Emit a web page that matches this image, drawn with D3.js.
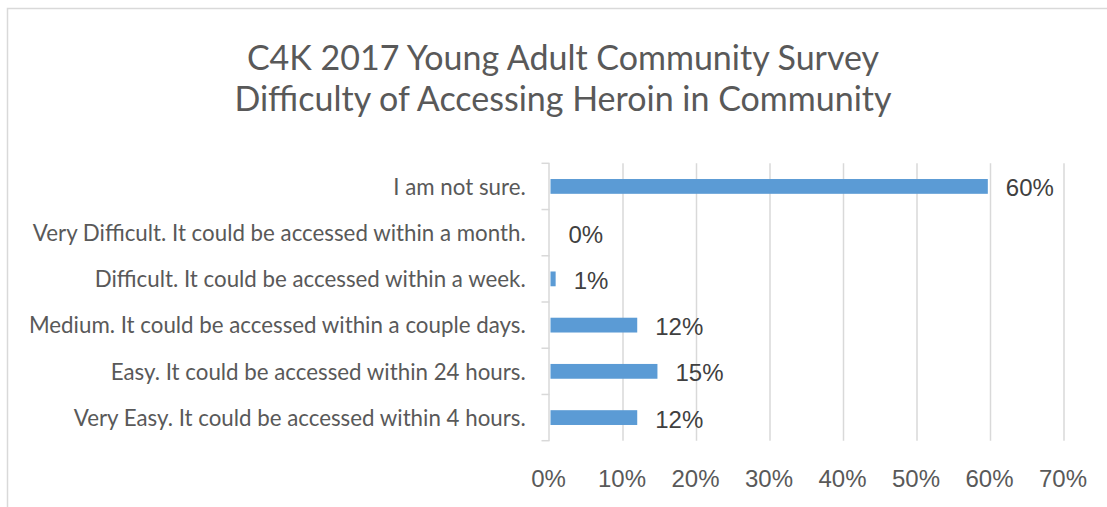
<!DOCTYPE html>
<html>
<head>
<meta charset="utf-8">
<script src="https://cdn.jsdelivr.net/npm/d3@7"></script>
<style>
  body { margin: 0; background: #fff; }
  svg { display: block; }
</style>
</head>
<body>
<div id="chart"></div>
<script>
// survey answers, top to bottom as shown
const categories = [
  "I am not sure.",
  "Very Difficult. It could be accessed within a month.",
  "Difficult. It could be accessed within a week.",
  "Medium. It could be accessed within a couple days.",
  "Easy. It could be accessed within 24 hours.",
  "Very Easy. It could be accessed within 4 hours."
];
const shares = [0.595, 0, 0.007, 0.118, 0.1455, 0.118];
const ticks = [0, 0.1, 0.2, 0.3, 0.4, 0.5, 0.6, 0.7];
const titleLines = [
  "C4K 2017 Young Adult Community Survey",
  "Difficulty of Accessing Heroin in Community"
];

const W = 1107, H = 507;
const plot = {left: 549.5, right: 1064, top: 163.3, bottom: 440.7};
const fmt = d3.format(".0%");

const svg = d3.select("#chart").append("svg")
  .attr("width", W)
  .attr("height", H);

// chart frame (continues past the picture edge)
svg.append("rect")
  .attr("x", 7.5).attr("y", 8.5)
  .attr("width", W + 20).attr("height", H + 20)
  .attr("fill", "#fff")
  .attr("stroke", "#d9d9d9")
  .attr("stroke-width", 1.5);

// title
svg.append("text")
  .attr("text-anchor", "middle")
  .attr("font-family", "Lato, 'Open Sans', sans-serif")
  .attr("font-size", 34)
  .attr("fill", "#595959")
  .selectAll("tspan")
  .data(titleLines)
  .join("tspan")
  .attr("x", 563)
  .attr("y", (d, i) => 70 + i * 41)
  .text(d => d);

const x = d3.scaleLinear()
  .domain([0, 0.7])
  .range([plot.left, plot.right]);

const y = d3.scaleBand()
  .domain(categories)
  .range([plot.top, plot.bottom])
  .paddingInner(0.68)
  .paddingOuter(0.34);

// vertical gridlines
svg.append("g")
  .selectAll("line")
  .data(ticks.slice(1))
  .join("line")
  .attr("x1", d => x(d)).attr("x2", d => x(d))
  .attr("y1", plot.top).attr("y2", plot.bottom)
  .attr("stroke", "#d9d9d9")
  .attr("stroke-width", 1.5);

// x tick labels
svg.append("g")
  .attr("font-family", "'Liberation Sans', Arial, sans-serif")
  .attr("font-size", 24)
  .attr("fill", "#595959")
  .attr("text-anchor", "middle")
  .selectAll("text")
  .data(ticks)
  .join("text")
  .attr("x", d => x(d) - 1)
  .attr("y", 486.7)
  .text(d => fmt(d));

// category axis line + tick marks at band edges
const step = (plot.bottom - plot.top) / categories.length;
const catAxis = svg.append("g")
  .attr("stroke", "#d9d9d9")
  .attr("stroke-width", 1.5);
catAxis.append("line")
  .attr("x1", plot.left - 0.5).attr("x2", plot.left - 0.5)
  .attr("y1", plot.top).attr("y2", plot.bottom);
catAxis.selectAll(".tk")
  .data(d3.range(categories.length + 1))
  .join("line")
  .attr("class", "tk")
  .attr("x1", plot.left - 8).attr("x2", plot.left)
  .attr("y1", i => plot.top + i * step)
  .attr("y2", i => plot.top + i * step);

// category labels
svg.append("g")
  .attr("font-family", "Lato, 'Open Sans', sans-serif")
  .attr("font-size", 22.3)
  .attr("fill", "#595959")
  .attr("text-anchor", "end")
  .selectAll("text")
  .data(categories)
  .join("text")
  .attr("x", 525.7)
  .attr("y", d => y(d) + y.bandwidth() / 2 + 8.3)
  .text(d => d);

// bars
svg.append("g")
  .selectAll("rect")
  .data(shares)
  .join("rect")
  .attr("x", x(0) + 1)
  .attr("y", (d, i) => y(categories[i]))
  .attr("width", d => Math.max(0, x(d) - x(0)))
  .attr("height", y.bandwidth())
  .attr("fill", "#5b9bd5");

// data labels
svg.append("g")
  .attr("font-family", "'Liberation Sans', Arial, sans-serif")
  .attr("font-size", 24)
  .attr("fill", "#404040")
  .selectAll("text")
  .data(shares)
  .join("text")
  .attr("x", d => x(d) + 19)
  .attr("y", (d, i) => y(categories[i]) + y.bandwidth() / 2 + 10)
  .text(d => fmt(d));
</script>
</body>
</html>
